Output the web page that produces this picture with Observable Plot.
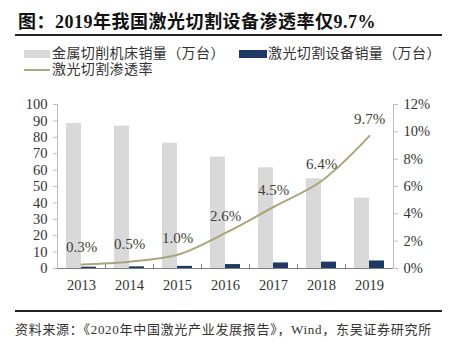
<!DOCTYPE html>
<html>
<head>
<meta charset="utf-8">
<script src="https://cdn.jsdelivr.net/npm/d3@7"></script>
<script src="https://cdn.jsdelivr.net/npm/@observablehq/plot@0.6"></script>
<style>
  html, body { margin: 0; padding: 0; background: #fff; }
  body { width: 454px; height: 350px; position: relative; overflow: hidden;
         font-family: "Liberation Serif", "Noto Sans CJK SC", serif; color: #333; }
  .abs { position: absolute; white-space: nowrap; }
  #title { left: 18px; top: 7px; font-size: 18px; font-weight: bold; color: #111; letter-spacing: 0.5px; }
  .rule { position: absolute; left: 15px; width: 427px; height: 1.5px; background: #222; }
  .leg { font-size: 14px; line-height: 16px; color: #333; letter-spacing: 0.4px; }
  .sw { position: absolute; }
  #source { left: 15px; top: 319px; font-size: 13px; color: #333; letter-spacing: 0.7px; }
  #chart { position: absolute; left: 0; top: 90px; }
</style>
</head>
<body>
<div id="title" class="abs">图：2019年我国激光切割设备渗透率仅9.7%</div>
<div class="rule" style="top:34px"></div>

<div class="sw" style="left:24px; top:50px; width:26px; height:8px; background:#D9D9D9"></div>
<div class="abs leg" style="left:52px; top:46px">金属切削机床销量（万台）</div>
<div class="sw" style="left:239px; top:50px; width:28px; height:8px; background:#1F3864"></div>
<div class="abs leg" style="left:268px; top:46px">激光切割设备销量（万台）</div>
<div class="sw" style="left:24px; top:69px; width:26px; height:2px; background:#A9A57C"></div>
<div class="abs leg" style="left:52px; top:62px">激光切割渗透率</div>

<div id="chart"></div>

<div class="rule" style="top:310px"></div>
<div id="source" class="abs">资料来源：《2020年中国激光产业发展报告》，Wind，东吴证券研究所</div>

<script>
const years = ["2013", "2014", "2015", "2016", "2017", "2018", "2019"];
const metalSales = [88.5, 86.8, 76.4, 68.0, 61.4, 54.7, 42.9];
const laserSales = [0.8, 1.0, 1.3, 2.4, 3.4, 3.9, 4.6];
const penetration = [0.3, 0.5, 1.0, 2.6, 4.5, 6.4, 9.7];
const leftTicks = [0, 10, 20, 30, 40, 50, 60, 70, 80, 90, 100];
const rightTicks = [0, 2, 4, 6, 8, 10, 12];

const rightMax = 12, leftMax = 100;
const toLeft = v => v * leftMax / rightMax;

const data = years.map((y, i) => ({
  year: y, metal: metalSales[i], laser: laserSales[i], rate: penetration[i]
}));

const axisFont = 14.5;
const chart = Plot.plot({
  width: 454,
  height: 210,
  marginLeft: 57,
  marginRight: 61,
  marginTop: 14,
  marginBottom: 32,
  style: { fontFamily: "Liberation Serif, Noto Sans CJK SC, serif", fontSize: axisFont + "px", color: "#333", background: "white" },
  x: { type: "band", domain: years, padding: 0, axis: null, label: null },
  y: { domain: [0, leftMax], axis: null, label: null },
  marks: [
    Plot.barY(data, { x: "year", y: "metal", fill: "#D9D9D9", insetLeft: 9, insetRight: 24 }),
    Plot.barY(data, { x: "year", y: "laser", fill: "#1F3864", insetLeft: 24, insetRight: 9 }),
    // axis lines
    Plot.ruleX([years[0]], { x: d => d, dx: -24, y1: 0, y2: leftMax, stroke: "#BFBFBF", strokeWidth: 1 }),
    Plot.ruleX([years[years.length - 1]], { x: d => d, dx: 24, y1: 0, y2: leftMax, stroke: "#BFBFBF", strokeWidth: 1 }),
    Plot.ruleY([0], { stroke: "#7F7F7F", strokeWidth: 1.2 }),
    // category boundary ticks
    Plot.ruleX(years.slice(1), { x: d => d, dx: -24, y1: 0, y2: 2.4, stroke: "#7F7F7F", strokeWidth: 1 }),
    // left axis
    Plot.axisY(leftTicks, { anchor: "left", label: null, tickSize: 4, tickPadding: 6, stroke: "#BFBFBF", fill: "#333", fontSize: axisFont }),
    // right axis
    Plot.axisY(rightTicks.map(toLeft), { anchor: "right", label: null, tickSize: 4, tickPadding: 6, stroke: "#BFBFBF", fill: "#333", fontSize: axisFont,
      tickFormat: d => Math.round(d * rightMax / leftMax) + "%" }),
    // x axis labels
    Plot.axisX(years, { label: null, tickSize: 0, tickPadding: 11, fill: "#333", fontSize: axisFont }),
    // penetration line
    Plot.line(data, { x: "year", y: d => toLeft(d.rate), stroke: "#A9A57C", strokeWidth: 2, curve: "catmull-rom" }),
    Plot.text(data, { x: "year", y: d => toLeft(d.rate), text: d => d.rate.toFixed(1) + "%", dy: -17, fontSize: 15, fill: "#404040" })
  ]
});
document.getElementById("chart").appendChild(chart);
</script>
</body>
</html>
